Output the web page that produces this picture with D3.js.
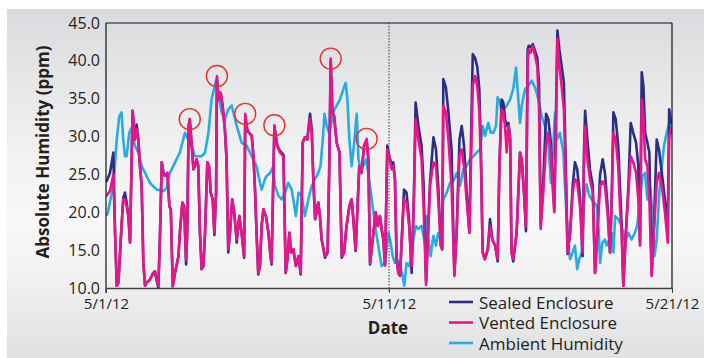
<!DOCTYPE html>
<html>
<head>
<meta charset="utf-8">
<script src="https://cdn.jsdelivr.net/npm/d3@7"></script>
<style>
  body { margin: 0; background: #fff; }
  text { font-family: "Open Sans", "Noto Sans", sans-serif; fill: #231f20; }
</style>
</head>
<body>
<svg id="chart" width="704" height="358"></svg>
<script>
// Absolute humidity log, 1 May – 21 May 2012 (time in days since 5/1/12)
const startDate = new Date(2012, 4, 1);

const enclosureDays = [
  0.02,0.14,0.26,0.32,0.38,0.44,0.49,0.55,0.61,0.67,0.73,0.79,0.85,0.94,1.02,1.08,1.14,1.20,1.26,1.32,
  1.38,1.44,1.55,1.67,1.73,1.79,1.85,1.91,1.97,2.03,2.08,2.17,2.24,2.29,2.36,2.44,2.56,2.61,2.70,2.76,
  2.83,2.87,2.92,2.96,3.03,3.09,3.14,3.20,3.26,3.32,3.38,3.44,3.50,3.58,3.64,3.70,3.77,3.83,3.89,3.92,
  3.98,4.05,4.12,4.20,4.26,4.32,4.38,4.46,4.53,4.62,4.71,4.79,4.88,4.92,4.99,5.06,5.15,5.21,5.27,5.32,
  5.38,5.44,5.50,5.56,5.65,5.74,5.80,5.85,5.95,6.05,6.15,6.27,6.35,6.41,6.48,6.54,6.62,6.71,6.80,6.88,
  6.95,7.03,7.11,7.21,7.27,7.33,7.39,7.44,7.50,7.56,7.62,7.74,7.83,7.89,7.94,8.00,8.06,8.15,8.25,8.33,
  8.41,8.50,8.60,8.68,8.74,8.82,8.88,8.95,9.03,9.12,9.21,9.27,9.33,9.45,9.53,9.60,9.68,9.74,9.80,9.86,
  9.94,10.01,10.09,10.15,10.21,10.27,10.33,10.39,10.45,10.53,10.62,10.71,10.80,10.88,10.94,11.04,11.15,11.22,11.31,11.38,
  11.45,11.57,11.66,11.74,11.83,11.88,11.92,12.01,12.10,12.21,12.31,12.39,12.49,12.57,12.65,12.74,12.84,12.90,12.96,13.04,
  13.12,13.19,13.25,13.31,13.39,13.49,13.57,13.65,13.75,13.84,13.90,13.98,14.04,14.10,14.16,14.22,14.28,14.33,14.39,14.51,
  14.63,14.69,14.77,14.84,14.90,14.94,15.01,15.08,15.16,15.24,15.30,15.36,15.45,15.55,15.63,15.71,15.78,15.84,15.90,15.95,
  16.02,16.10,16.18,16.25,16.31,16.40,16.49,16.57,16.65,16.75,16.84,16.89,16.93,17.01,17.10,17.20,17.28,17.36,17.46,17.55,
  17.63,17.73,17.81,17.87,17.93,18.01,18.10,18.16,18.22,18.28,18.37,18.46,18.54,18.63,18.73,18.81,18.87,18.93,18.99,19.05,
  19.13,19.20,19.28,19.36,19.46,19.54,19.64,19.75,19.85,19.90,19.95,20.00
];

const sealedPpm = [
  24.1,25.2,27.9,17.3,10.3,10.7,14.2,18.2,21.9,22.6,21.3,19.5,16.0,33.4,29.6,31.6,29.8,26.1,23.5,13.3,
  10.3,10.7,11.1,12.0,12.2,11.0,10.0,17.3,26.6,25.2,24.8,25.2,20.8,20.4,10.2,12.0,14.2,17.3,21.3,20.8,
  13.1,17.3,31.4,32.3,28.8,25.7,26.1,27.0,26.1,17.3,12.5,12.9,17.3,26.6,26.1,22.6,21.7,17.0,22.6,37.6,
  34.9,35.8,34.1,31.0,27.0,14.7,17.3,21.7,20.0,16.0,19.5,17.3,14.0,32.6,30.8,30.5,30.1,27.4,22.6,17.3,
  11.8,12.9,18.2,20.4,19.5,17.3,14.7,13.1,31.3,28.8,28.1,27.6,12.0,13.8,17.3,14.7,15.1,12.9,14.2,11.8,
  29.2,29.9,29.6,33.0,31.0,23.9,19.1,20.0,21.3,19.5,16.4,14.0,14.7,26.1,40.0,33.2,32.7,29.2,27.9,14.0,
  14.7,18.2,20.8,21.7,19.1,14.9,20.0,26.1,25.2,28.8,29.5,27.0,13.1,17.3,20.0,18.2,19.5,17.8,16.4,13.0,
  28.8,27.4,26.4,26.6,24.4,13.8,12.0,11.6,16.4,23.0,22.6,19.0,12.0,22.0,34.5,31.4,28.8,24.0,10.8,17.5,
  24.0,29.9,28.3,23.5,15.6,15.1,37.6,36.5,33.2,28.3,11.8,17.3,29.6,31.4,28.8,23.0,17.3,30.0,40.9,40.4,
  39.2,36.3,28.0,14.7,13.8,15.1,19.1,16.4,15.6,13.5,26.1,34.9,34.5,32.3,31.4,31.8,30.0,14.7,13.5,17.3,
  27.9,27.0,22.6,17.5,41.5,42.0,41.8,42.2,41.3,40.4,37.1,18.5,24.0,33.0,32.3,29.6,24.5,20.5,33.0,44.0,
  41.5,39.3,37.1,26.0,14.5,17.3,23.5,26.6,25.7,22.0,14.2,28.0,33.4,29.6,25.7,23.5,12.0,17.3,25.0,27.0,
  25.2,20.5,14.7,21.7,33.2,32.3,28.8,23.5,18.5,10.3,17.3,23.5,31.8,30.5,29.2,26.1,16.0,38.5,36.7,30.5,
  29.2,27.9,12.0,18.0,29.6,28.3,25.2,21.7,18.2,33.6,32.3,31.8
];

const ventedPpm = [
  22.2,22.8,25.0,17.3,10.3,10.7,14.2,18.2,21.7,21.7,20.8,19.5,16.0,33.4,29.6,31.0,29.6,26.1,23.5,13.3,
  10.3,10.7,11.1,12.0,12.2,11.1,10.3,17.3,26.6,25.2,24.8,25.2,20.8,20.4,10.3,12.0,14.2,17.3,21.3,20.8,
  13.7,17.3,31.4,32.3,28.8,25.7,26.1,27.0,26.1,17.3,12.5,12.9,17.3,26.6,26.1,22.6,21.7,17.3,22.6,38.0,
  34.9,35.8,34.1,31.0,27.0,15.1,17.3,21.7,20.0,16.4,19.5,17.3,14.2,33.0,31.0,30.5,30.1,27.4,22.6,17.3,
  12.0,12.9,18.2,20.4,19.5,17.3,14.7,13.3,31.5,28.8,27.9,27.4,12.0,13.8,17.3,14.7,15.1,12.9,14.2,12.0,
  29.2,29.9,29.6,32.3,30.5,23.9,19.1,20.0,21.3,19.5,16.4,14.2,14.7,26.1,40.3,33.2,32.7,29.2,27.9,14.2,
  14.7,18.2,20.8,21.7,19.1,15.1,20.0,26.1,25.2,28.8,29.7,27.0,13.3,17.3,20.0,18.2,19.5,17.8,16.4,13.0,
  28.3,27.4,25.7,26.1,24.4,13.8,12.0,11.6,16.4,21.7,21.3,18.2,12.9,21.7,32.3,29.6,27.0,21.0,10.4,17.0,
  23.5,26.6,26.1,21.7,15.6,15.1,34.1,33.2,29.6,23.5,11.6,17.3,27.4,28.3,26.1,21.7,17.3,27.0,36.7,38.0,
  36.7,33.6,26.1,14.7,13.8,15.1,18.2,16.4,15.6,13.8,26.1,33.6,33.2,31.4,27.9,31.4,29.6,14.7,13.8,17.3,
  27.9,27.0,22.6,18.2,40.0,41.5,41.1,42.0,40.7,39.3,34.1,17.8,22.6,28.8,30.5,28.3,23.5,20.0,30.5,42.9,
  39.3,36.7,33.6,23.9,14.7,17.3,22.6,24.4,23.9,20.8,14.7,26.1,31.4,27.0,24.4,22.6,12.0,17.3,23.5,24.1,
  23.5,19.5,14.7,21.7,30.5,29.6,26.1,20.8,17.3,10.3,17.3,22.6,27.4,26.6,25.2,21.7,15.6,34.9,32.7,27.0,
  26.1,21.7,11.6,17.3,23.9,25.2,23.5,20.0,16.0,29.6,31.0,30.5
];

const ambientDays = [
  0.05,0.26,0.38,0.47,0.55,0.61,0.67,0.73,0.82,0.91,1.02,1.14,1.26,1.38,1.55,1.79,2.03,2.14,2.26,2.44,
  2.61,2.79,2.91,3.03,3.14,3.38,3.50,3.62,3.73,3.89,3.97,4.09,4.20,4.32,4.44,4.62,4.79,4.97,5.15,5.32,
  5.44,5.50,5.62,5.68,5.80,5.89,5.97,6.09,6.21,6.33,6.44,6.56,6.62,6.71,6.80,6.91,7.03,7.15,7.27,7.39,
  7.50,7.58,7.66,7.72,7.80,7.88,7.94,8.03,8.15,8.27,8.39,8.47,8.53,8.60,8.68,8.76,8.86,8.92,8.98,9.09,
  9.19,9.27,9.39,9.51,9.62,9.74,9.86,9.98,10.04,10.13,10.21,10.29,10.39,10.48,10.54,10.62,10.71,10.77,10.86,10.95,
  11.04,11.15,11.27,11.31,11.39,11.47,11.57,11.66,11.74,11.83,11.92,12.04,12.16,12.27,12.39,12.51,12.63,12.74,12.86,12.98,
  13.10,13.22,13.31,13.39,13.51,13.60,13.69,13.78,13.84,13.92,13.98,14.06,14.16,14.28,14.39,14.49,14.57,14.63,14.69,14.81,
  14.92,15.04,15.16,15.28,15.39,15.51,15.63,15.72,15.81,15.87,15.93,16.04,16.16,16.24,16.34,16.40,16.49,16.57,16.65,16.72,
  16.81,16.89,16.98,17.08,17.16,17.25,17.34,17.40,17.46,17.54,17.63,17.69,17.78,17.87,17.93,17.99,18.10,18.22,18.34,18.46,
  18.57,18.69,18.77,18.87,18.96,19.05,19.13,19.22,19.31,19.38,19.46,19.55,19.64,19.72,19.81,19.91,20.00
];

const ambientPpm = [
  19.7,23.5,29.6,32.7,33.2,29.6,27.4,27.4,30.5,31.2,28.8,27.9,26.1,25.2,23.9,23.0,22.8,23.2,25.2,26.6,
  27.9,30.5,29.6,28.8,27.4,27.4,27.9,30.5,34.9,37.4,35.4,33.2,32.3,33.6,34.1,31.4,29.2,28.8,27.4,26.1,
  23.9,23.0,24.4,24.8,25.2,25.9,23.5,22.2,21.7,22.6,23.9,23.0,21.7,19.5,22.6,22.2,19.5,21.7,23.5,24.4,
  25.2,26.1,29.6,33.0,31.4,30.5,31.4,33.2,34.1,34.9,36.3,37.1,34.9,29.6,26.1,28.8,33.0,27.0,26.1,26.1,
  27.0,25.2,21.7,18.2,15.6,12.9,13.3,17.3,16.4,14.2,13.3,13.8,12.9,11.6,10.3,13.3,12.9,13.8,16.4,18.2,
  17.8,18.2,16.0,19.5,16.4,14.2,16.9,15.6,17.3,16.4,21.7,22.6,23.9,24.1,25.2,23.5,25.7,26.1,27.0,27.4,
  27.9,28.3,31.4,30.1,31.8,30.5,30.5,31.4,35.2,34.5,33.2,33.6,34.1,34.9,36.3,39.1,34.9,31.8,34.1,36.3,
  36.7,37.4,36.5,34.9,32.7,31.4,29.2,23.9,29.2,33.2,29.6,30.5,27.9,21.7,15.6,13.8,14.7,15.6,12.5,13.8,
  14.7,21.7,23.7,22.2,21.7,21.3,20.8,18.2,13.3,16.0,16.4,15.6,16.4,17.3,14.7,19.5,19.1,18.2,16.0,17.3,
  16.4,17.3,18.2,21.7,24.8,25.2,21.7,23.5,20.0,14.2,16.4,22.6,26.1,28.8,30.5,31.8,31.0
];

const yTickValues = [10, 15, 20, 25, 30, 35, 40, 45];
const xTickDays = [0, 10, 20];
const dividerDay = 10;
// vented-enclosure peaks marked with a red ring
const highlightDays = [2.96, 3.92, 4.92, 5.95, 7.94, 9.21];

const seriesNames = ["Sealed Enclosure", "Vented Enclosure", "Ambient Humidity"];
const seriesColors = ["#2b2e83", "#e5168a", "#29abe2"];

// ---------------------------------------------------------------
const W = 704, H = 358;
const margin = { top: 23, right: 32, bottom: 70, left: 106 };
const innerW = W - margin.left - margin.right;
const innerH = H - margin.top - margin.bottom;

const svg = d3.select("#chart");
const dayToDate = d => new Date(startDate.getTime() + d * 864e5);

// panel background
const defs = svg.append("defs");
const grad = defs.append("linearGradient").attr("id", "panelGrad")
  .attr("x1", 0).attr("y1", 0).attr("x2", 0).attr("y2", 1);
[["0%", "#dadbde"], ["40%", "#f1f1f2"], ["62%", "#f8f8f9"], ["80%", "#efeff0"], ["100%", "#dfe0e2"]]
  .forEach(([o, c]) => grad.append("stop").attr("offset", o).attr("stop-color", c));
svg.append("rect").attr("x", 7).attr("y", 9).attr("width", W - 7).attr("height", H - 9)
  .attr("fill", "url(#panelGrad)");

defs.append("clipPath").attr("id", "plotClip")
  .append("rect").attr("x", 0).attr("y", -2).attr("width", innerW).attr("height", innerH + 2);

const g = svg.append("g").attr("transform", `translate(${margin.left},${margin.top})`);

const x = d3.scaleTime().domain([dayToDate(0), dayToDate(20)]).range([0, innerW]);
const y = d3.scaleLinear().domain([10, 45]).range([innerH, 0]);

// series
const enclosureRows = enclosureDays.map((d, i) => ({ t: dayToDate(d), sealed: sealedPpm[i], vented: ventedPpm[i] }));
const ambientRows = ambientDays.map((d, i) => ({ t: dayToDate(d), v: ambientPpm[i] }));

const plot = g.append("g").attr("clip-path", "url(#plotClip)");
const lineStyle = sel => sel.attr("fill", "none").attr("stroke-width", 2.6)
  .attr("stroke-linejoin", "round").attr("stroke-linecap", "round");

plot.append("path").datum(ambientRows).call(lineStyle)
  .attr("stroke", seriesColors[2])
  .attr("d", d3.line().x(d => x(d.t)).y(d => y(d.v)));
plot.append("path").datum(enclosureRows).call(lineStyle)
  .attr("stroke", seriesColors[0])
  .attr("d", d3.line().x(d => x(d.t)).y(d => y(d.sealed)));
plot.append("path").datum(enclosureRows).call(lineStyle)
  .attr("stroke", seriesColors[1])
  .attr("d", d3.line().x(d => x(d.t)).y(d => y(d.vented)));

// highlight rings on selected vented peaks
highlightDays.forEach(day => {
  const i = d3.leastIndex(enclosureDays, d => Math.abs(d - day));
  g.append("circle")
    .attr("cx", x(dayToDate(enclosureDays[i])))
    .attr("cy", y(ventedPpm[i]))
    .attr("r", 10.5)
    .attr("fill", "none").attr("stroke", "#e4322b").attr("stroke-width", 1.4);
});

// divider at 5/11
g.append("line")
  .attr("x1", x(dayToDate(dividerDay))).attr("x2", x(dayToDate(dividerDay)))
  .attr("y1", 0).attr("y2", innerH + 5)
  .attr("stroke", "#555").attr("stroke-width", 1.2).attr("stroke-dasharray", "1.5,1.5");

// frame: top and right edges
g.append("line").attr("x1", 0).attr("x2", innerW).attr("y1", 0).attr("y2", 0)
  .attr("stroke", "#111").attr("stroke-width", 1.2);
g.append("line").attr("x1", innerW).attr("x2", innerW).attr("y1", 0).attr("y2", innerH)
  .attr("stroke", "#111").attr("stroke-width", 1.2);

// y axis
const yAxis = g.append("g")
  .call(d3.axisLeft(y).tickValues(yTickValues).tickSize(0).tickPadding(6).tickFormat(d3.format(".1f")));
yAxis.select(".domain").attr("stroke", "#111").attr("stroke-width", 1.2)
  .attr("d", `M0,0V${innerH + 5}`);
yAxis.selectAll("text").attr("font-size", 16).attr("fill", "#231f20")
  .style("font-family", '"Open Sans", sans-serif');

// x axis
const xAxis = g.append("g").attr("transform", `translate(0,${innerH})`)
  .call(d3.axisBottom(x).tickValues(xTickDays.map(dayToDate)).tickSize(5).tickSizeOuter(0)
    .tickPadding(5).tickFormat(d3.timeFormat("%-m/%-d/%y")));
xAxis.select(".domain").attr("stroke", "#444").attr("stroke-width", 1.4);
xAxis.selectAll(".tick line").attr("stroke", "#444");
xAxis.selectAll("text").attr("font-size", 15).attr("fill", "#231f20")
  .style("font-family", '"Open Sans", sans-serif');

// axis titles
svg.append("text")
  .attr("x", 388).attr("y", 334)
  .attr("text-anchor", "middle").attr("font-size", 17).attr("font-weight", "bold")
  .text("Date");
svg.append("text")
  .attr("transform", "translate(49,152) rotate(-90)")
  .attr("text-anchor", "middle").attr("font-size", 17).attr("font-weight", "bold")
  .text("Absolute Humidity (ppm)");

// legend
const legend = svg.append("g").attr("transform", "translate(449,302)");
seriesNames.forEach((name, i) => {
  const row = legend.append("g").attr("transform", `translate(0,${i * 20.5})`);
  row.append("line").attr("x1", 0).attr("x2", 24).attr("y1", 0).attr("y2", 0)
    .attr("stroke", seriesColors[i]).attr("stroke-width", 2.6);
  row.append("text").attr("x", 30).attr("y", 6.5).attr("font-size", 17).text(name);
});
</script>
</body>
</html>
